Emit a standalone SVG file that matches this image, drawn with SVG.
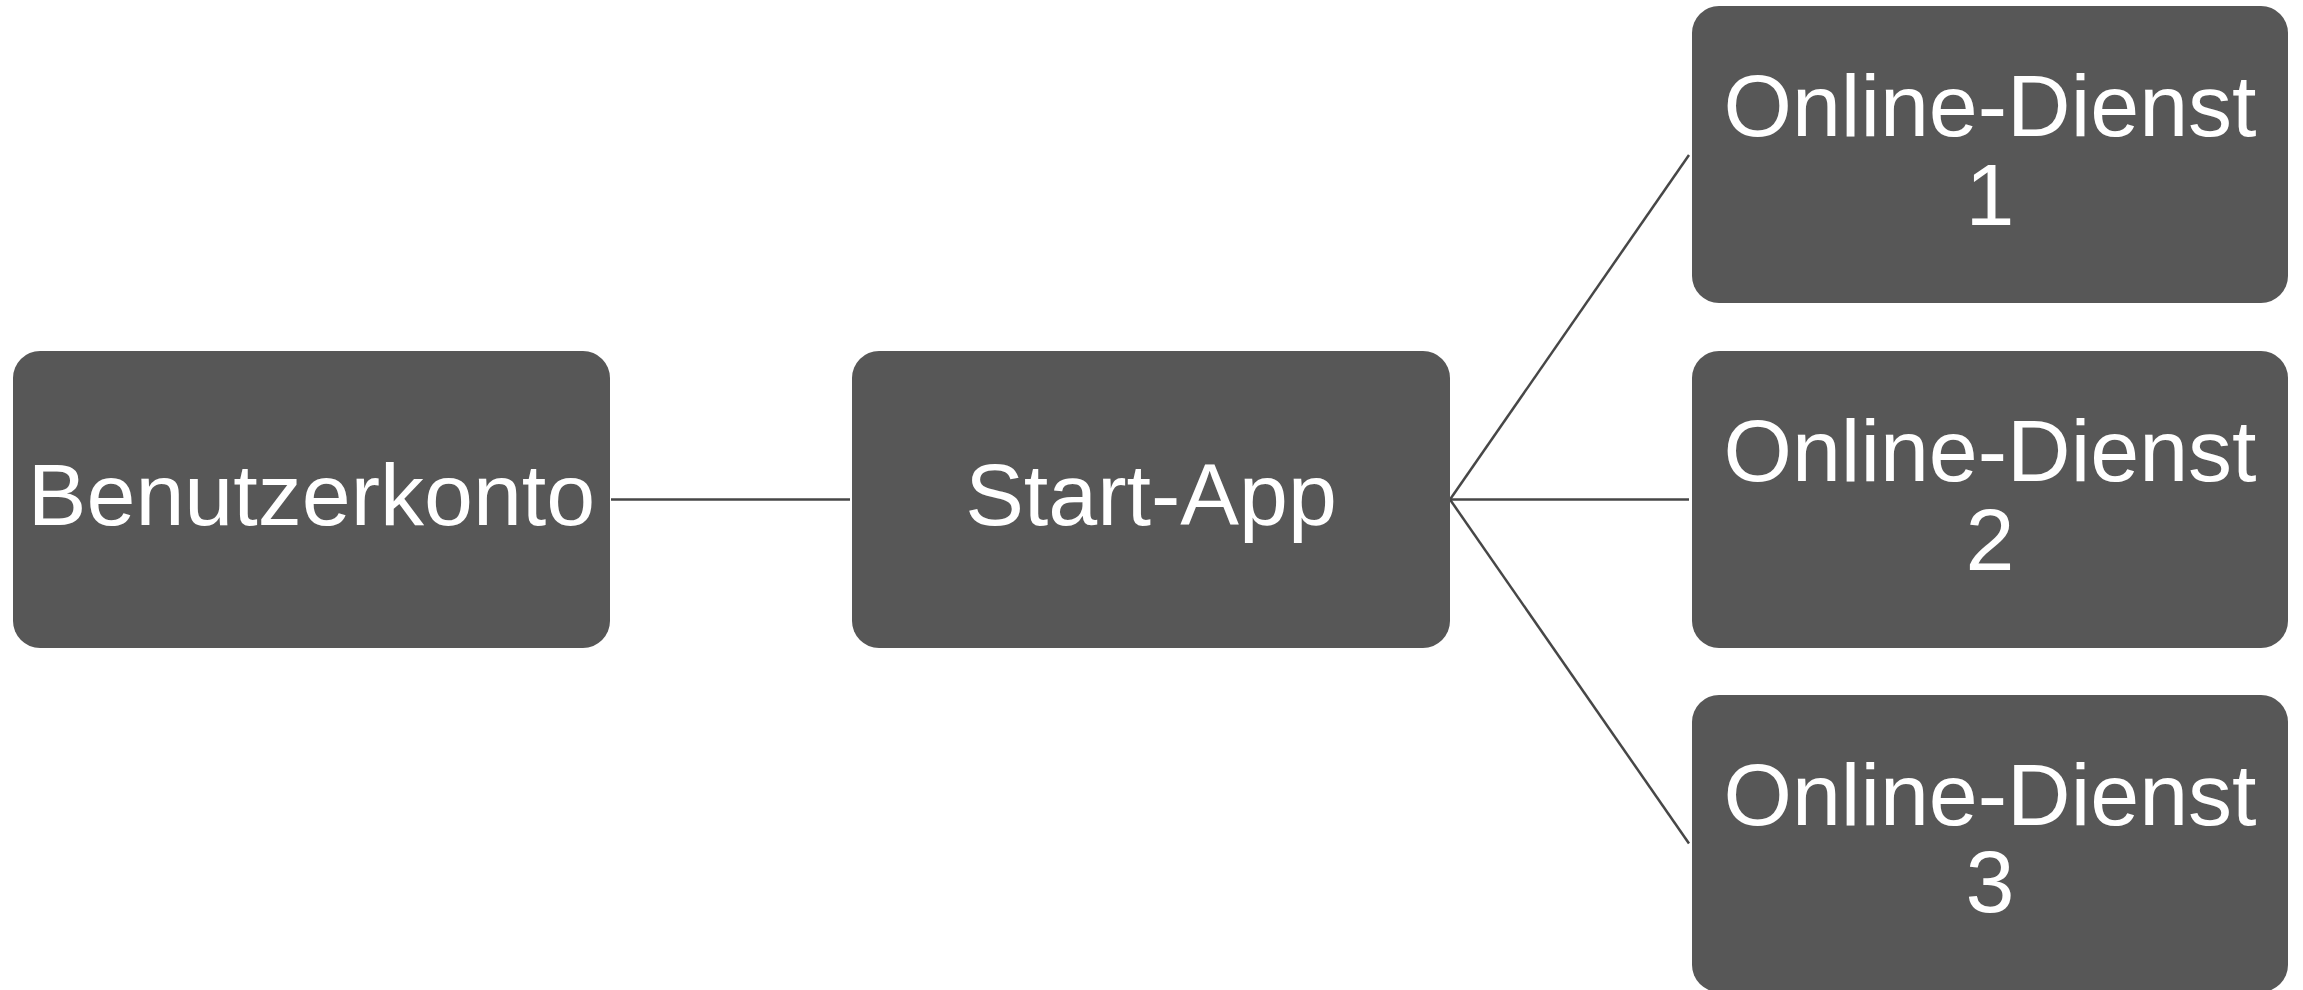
<svg xmlns="http://www.w3.org/2000/svg" width="2303" height="990" viewBox="0 0 2303 990">
<style>
.box{fill:#575757}
.lbl{fill:#ffffff;font-family:"Liberation Sans",Arial,sans-serif;font-size:88px;text-anchor:middle}
.conn{stroke:#474747;stroke-width:2.5;fill:none}
</style>
<rect width="2303" height="990" fill="#ffffff"/>
<g id="connectors">
<line class="conn" x1="611" y1="499.5" x2="850" y2="499.5"/>
<line class="conn" x1="1450" y1="499.5" x2="1689" y2="155"/>
<line class="conn" x1="1450" y1="499.5" x2="1689" y2="499.5"/>
<line class="conn" x1="1450" y1="499.5" x2="1689" y2="843.5"/>
</g>
<g id="benutzerkonto">
<rect class="box" x="13" y="351" width="597" height="297" rx="27"/>
<text class="lbl" x="311.5" y="525">Benutzerkonto</text>
</g>
<g id="start-app">
<rect class="box" x="852" y="351" width="598" height="297" rx="27"/>
<text class="lbl" x="1151" y="525">Start-App</text>
</g>
<g id="online-dienst-1">
<rect class="box" x="1692" y="6" width="596" height="297" rx="27"/>
<text class="lbl" x="1990" y="136">Online-Dienst</text>
<text class="lbl" x="1990" y="225">1</text>
</g>
<g id="online-dienst-2">
<rect class="box" x="1692" y="351" width="596" height="297" rx="27"/>
<text class="lbl" x="1990" y="480.5">Online-Dienst</text>
<text class="lbl" x="1990" y="569.5">2</text>
</g>
<g id="online-dienst-3">
<rect class="box" x="1692" y="695" width="596" height="297" rx="27"/>
<text class="lbl" x="1990" y="825">Online-Dienst</text>
<text class="lbl" x="1990" y="912">3</text>
</g>
</svg>
